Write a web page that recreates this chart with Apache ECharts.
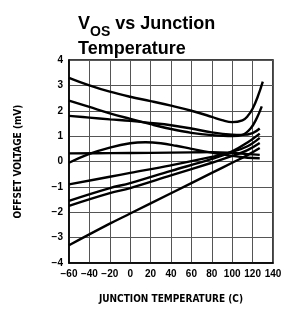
<!DOCTYPE html>
<html><head><meta charset="utf-8">
<script src="https://cdn.jsdelivr.net/npm/echarts@6/dist/echarts.min.js"></script>
<style>html,body{margin:0;padding:0;background:#fff}#c{width:286px;height:313px}</style>
</head><body><div id="c"></div>
<script>
var xTicks = [-60,-40,-20,0,20,40,60,80,100,120,140];
var yTicks = [-4,-3,-2,-1,0,1,2,3,4];
// [temperature (C), offset voltage (mV)]
var curveA = [[-60,3.3],[-40,3.0],[-20,2.75],[0,2.55],[20,2.38],[40,2.2],[60,2.0],[80,1.76],[90,1.63],[100,1.55],[110,1.62],[115,1.78],[120,2.08],[125,2.55],[130,3.15]];
var curveB = [[-60,2.4],[-40,2.15],[-20,1.9],[0,1.68],[20,1.47],[40,1.28],[60,1.13],[80,1.04],[100,1.0],[110,1.05],[118,1.3],[124,1.7],[129,2.17]];
var curveC = [[-60,1.8],[-40,1.73],[-20,1.66],[0,1.6],[20,1.52],[40,1.43],[60,1.3],[80,1.15],[100,1.06],[110,1.05],[120,1.12],[127,1.3]];
var curveD = [[-60,-0.05],[-40,0.3],[-20,0.55],[0,0.72],[15,0.76],[30,0.72],[45,0.62],[60,0.5],[80,0.35],[100,0.22],[115,0.15],[127,0.13]];
var curveE = [[-60,0.32],[-20,0.33],[20,0.34],[60,0.36],[80,0.37],[100,0.34],[115,0.29],[127,0.26]];
var curveF = [[-60,-0.9],[-20,-0.6],[0,-0.45],[40,-0.15],[80,0.18],[100,0.38],[115,0.6],[127,0.93]];
var curveG = [[-60,-1.55],[-20,-1.05],[0,-0.85],[40,-0.37],[80,0.1],[100,0.4],[115,0.75],[127,1.1]];
var curveH = [[-60,-1.75],[-20,-1.25],[0,-1.05],[40,-0.55],[80,-0.05],[100,0.22],[115,0.45],[127,0.73]];
var curveI = [[-60,-3.3],[-20,-2.45],[0,-2.05],[40,-1.25],[80,-0.45],[100,-0.05],[115,0.25],[127,0.53]];
var curves = [curveA,curveB,curveC,curveD,curveE,curveF,curveG,curveH,curveI];

var chart = echarts.init(document.getElementById('c'), null, {renderer:'canvas'});
var series = curves.map(function(c){
  return {type:'line', data:c, smooth:0.4, showSymbol:false, symbol:'none',
    lineStyle:{color:'#000', width:2.4}, z:3, silent:true};
});
chart.setOption({
  animation:false,
  backgroundColor:'#fff',
  title:{
    left:73, top:10,
    text:'{v|V}{s|OS}{v| vs Junction}\n{t|Temperature}',
    textStyle:{
      rich:{
        v:{fontFamily:'Liberation Sans',fontWeight:'bold',fontSize:18,color:'#000',lineHeight:20,verticalAlign:'top'},
        s:{fontFamily:'Liberation Sans',fontWeight:'bold',fontSize:14,color:'#000',lineHeight:24,verticalAlign:'bottom'},
        t:{fontFamily:'Liberation Sans',fontWeight:'bold',fontSize:18,color:'#000',lineHeight:20}
      }
    }
  },
  grid:{left:69,right:13,top:60,bottom:50,show:true,borderColor:'#000',borderWidth:1.5,containLabel:false},
  xAxis:{
    type:'value', min:-60, max:140, interval:20,
    name:'JUNCTION TEMPERATURE (C)', nameLocation:'middle', nameGap:31,
    nameTextStyle:{fontFamily:'DejaVu Sans Condensed',fontWeight:'bold',fontSize:10,color:'#000'},
    axisLine:{show:true,onZero:false,lineStyle:{color:'#000',width:1.5}},
    axisTick:{show:false},
    axisLabel:{margin:6,fontFamily:'Liberation Sans',fontWeight:'bold',fontSize:10,color:'#000',
      formatter:function(v){return xTicks.indexOf(v)>=0 ? String(v).replace('-','\u2212') : '';}},
    splitLine:{show:true,lineStyle:{color:'#555',width:1}}
  },
  yAxis:{
    type:'value', min:-4, max:4, interval:1,
    name:'OFFSET VOLTAGE (mV)', nameLocation:'middle', nameGap:46, nameRotate:90,
    nameTextStyle:{fontFamily:'DejaVu Sans Condensed',fontWeight:'bold',fontSize:10,color:'#000'},
    axisLine:{show:true,onZero:false,lineStyle:{color:'#000',width:1.5}},
    axisTick:{show:false},
    axisLabel:{margin:6,fontFamily:'Liberation Sans',fontWeight:'bold',fontSize:10,color:'#000',
      formatter:function(v){return yTicks.indexOf(v)>=0 ? String(v).replace('-','\u2212') : '';}},
    splitLine:{show:true,lineStyle:{color:'#555',width:1}}
  },
  series:series
});
</script></body></html>
